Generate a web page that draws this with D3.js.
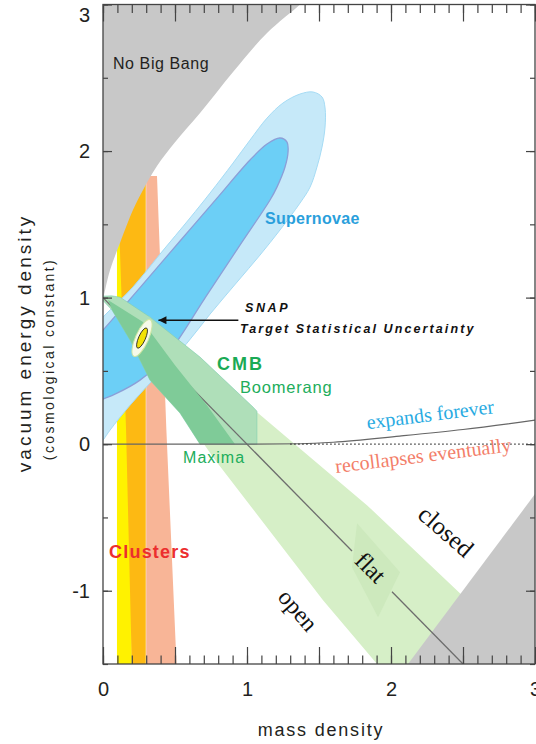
<!DOCTYPE html>
<html>
<head>
<meta charset="utf-8">
<script src="https://cdn.jsdelivr.net/npm/d3@7"></script>
<style>
  body { margin: 0; background: #fff; }
  svg { display: block; font-family: "Liberation Sans", Arial, Helvetica, sans-serif; }
</style>
</head>
<body>
<svg id="chart" width="536" height="744"></svg>
<script>
// ---- data (mass density, vacuum energy density) ----
const xTickLabels = [0, 1, 2, 3];
const yTickLabels = [-1, 0, 1, 2, 3];

// "No Big Bang" boundary
const noBigBang = [[0, 0.983], [0.049, 1.188], [0.118, 1.372], [0.208, 1.597], [0.278, 1.734],
  [0.375, 1.898], [0.5, 2.06], [0.674, 2.259], [0.903, 2.539], [1.139, 2.805], [1.368, 3.0], [1.45, 3.08]];

// lower right grey wedge
const closedGrey = [[2.042, -1.6], [3.1, -0.209], [3.1, -1.6]];

// cluster strips
const clusterYellow = [[0.097, -1.6], [0.2, -1.6], [0.2, 2.2], [0.097, 2.2]];
const clusterOrange = [[0.2, -1.6], [0.297, -1.6], [0.297, 2.2], [0.1, 2.2], [0.1, 1.8], [0.115, 1.4], [0.16, 0.1], [0.2, -1.5]];
const clusterSalmon = [[0.3, -1.6], [0.515, -1.6], [0.44, 0.1], [0.375, 1.83], [0.3, 1.83]];

// supernova confidence contours
const snOuter = [[-0.15, 0.70], [0, 0.867], [0.208, 1.072], [0.396, 1.297], [0.604, 1.543], [0.743, 1.713],
  [0.903, 1.918], [1.021, 2.075], [1.139, 2.225], [1.25, 2.328], [1.368, 2.389], [1.458, 2.403],
  [1.521, 2.369], [1.542, 2.294], [1.542, 2.164], [1.521, 2.027], [1.486, 1.891], [1.438, 1.754],
  [1.368, 1.645], [1.229, 1.461], [1.09, 1.29], [0.931, 1.106], [0.743, 0.887], [0.583, 0.689],
  [0.396, 0.491], [0.188, 0.266], [0.049, 0.096], [0, 0.027], [-0.15, -0.15]];
const snInner = [[-0.15, 0.61], [0, 0.778], [0.278, 1.092], [0.535, 1.386], [0.792, 1.679], [1.021, 1.939],
  [1.139, 2.048], [1.229, 2.089], [1.278, 2.061], [1.285, 1.993], [1.264, 1.891], [1.208, 1.754],
  [1.16, 1.666], [0.951, 1.358], [0.708, 0.997], [0.444, 0.608], [0.257, 0.437], [0.083, 0.341],
  [0, 0.307], [-0.15, 0.24]];

// CMB regions
const cmbPale = [[0, 1.01], [0.326, 0.867], [1.076, 0.212], [1.833, -0.416], [2.479, -1.017], [2.95, -1.45],
  [2.95, -1.6], [1.95, -1.6], [1.903, -1.5], [1.528, -1.065], [0.764, -0.089], [0.396, 0.437], [0.118, 0.915]];
const cmbKite = [[1.764, -0.539], [2.063, -0.874], [1.91, -1.181], [1.729, -0.84]];
const cmbBoomerang = [[0, 1.01], [0.06, 1.012], [0.118, 1.003], [0.326, 0.867], [0.674, 0.594], [1.042, 0.253],
  [1.069, 0.225], [1.069, 0], [0.674, 0], [0.535, 0.212], [0.326, 0.437], [0.188, 0.71], [0.0625, 0.915], [0, 0.98]];
const cmbMaxima = [[0.035, 0.983], [0.278, 0.833], [0.5, 0.539], [0.722, 0.266], [0.917, 0], [0.674, 0],
  [0.535, 0.212], [0.326, 0.437], [0.188, 0.71], [0.0625, 0.915]];

// lines
const expandLine = [[0, 0], [1, 0], [1.37, 0.003], [1.6, 0.013], [2.06, 0.055], [2.5, 0.1], [3, 0.164]];
const zeroDotted = [[1.3, 0], [3, 0]];
const flatLineA = [[0, 1], [1.729, -0.729]];
const flatLineB = [[2.007, -1.007], [2.5, -1.5]];

// SNAP target
const snapCenter = [0.271, 0.724];
const snapArrow = [[0.94, 0.846], [0.385, 0.846]];

// ---- chart ----
const svg = d3.select("#chart");
const x = d3.scaleLinear().domain([0, 3]).range([103, 535]);
const y = d3.scaleLinear().domain([-1.5, 3]).range([664, 4.5]);
const line = d3.line().x(d => x(d[0])).y(d => y(d[1]));
const smooth = d3.line().x(d => x(d[0])).y(d => y(d[1])).curve(d3.curveCatmullRom);

svg.append("clipPath").attr("id", "plot")
  .append("rect").attr("x", x(0)).attr("y", y(3))
  .attr("width", x(3) - x(0)).attr("height", y(-1.5) - y(3));

const g = svg.append("g").attr("clip-path", "url(#plot)");

function poly(pts, fill, curved) {
  return g.append("path").attr("d", (curved ? smooth : line)(pts) + "Z").attr("fill", fill);
}

// cluster strips
poly(clusterYellow, "#fff200");
poly(clusterOrange, "#fdb913");
poly(clusterSalmon, "#f8b597");

// supernovae
poly(snOuter, "#c6e9f9", true).attr("stroke", "#a5dbf4").attr("stroke-width", 1);
poly(snInner, "#6ccff6", true).attr("stroke", "#8b9fd8").attr("stroke-width", 1.3);

// no big bang
g.append("path")
  .attr("d", smooth(noBigBang) + `L${x(-0.1)},${y(3.1)}L${x(-0.1)},${y(0.983)}Z`)
  .attr("fill", "#c8c8c8");

// CMB
poly(cmbPale, "#d6efc7");
poly(cmbKite, "#cde9bd");
poly(closedGrey, "#c8c8c8");
poly(cmbBoomerang, "#afdfb9").attr("stroke", "#7fcfb0").attr("stroke-width", 0.6);

[flatLineA, flatLineB].forEach(seg => {
  g.append("path").attr("d", line(seg)).attr("fill", "none")
    .attr("stroke", "#6d6d6d").attr("stroke-width", 1.3);
});

poly(cmbMaxima, "#7fcb98");

// expands / recollapses boundary
g.append("path").attr("d", d3.line().x(d => x(d[0])).y(d => y(d[1])).curve(d3.curveMonotoneX)(expandLine))
  .attr("fill", "none").attr("stroke", "#666").attr("stroke-width", 1.2);
g.append("path").attr("d", line(zeroDotted)).attr("fill", "none")
  .attr("stroke", "#333").attr("stroke-width", 1.2).attr("stroke-dasharray", "1.5,2.5");

// SNAP ellipse
const snap = g.append("g")
  .attr("transform", `translate(${x(snapCenter[0])},${y(snapCenter[1])}) rotate(114)`);
snap.append("ellipse").attr("rx", 20).attr("ry", 6.5)
  .attr("fill", "#f6faea").attr("stroke", "#cfe6a2").attr("stroke-width", 1);
snap.append("ellipse").attr("rx", 11).attr("ry", 3.4)
  .attr("fill", "#f2e205").attr("stroke", "#222").attr("stroke-width", 0.8);

// arrow
svg.append("defs").append("marker").attr("id", "head")
  .attr("viewBox", "0 0 10 10").attr("refX", 10).attr("refY", 5)
  .attr("markerWidth", 10).attr("markerHeight", 8).attr("markerUnits", "userSpaceOnUse")
  .attr("orient", "auto")
  .append("path").attr("d", "M0,0L10,5L0,10Z").attr("fill", "#111");
svg.append("path").attr("d", line(snapArrow))
  .attr("stroke", "#111").attr("stroke-width", 1.5).attr("marker-end", "url(#head)");

// ---- labels ----
function label(t, px, py, opts) {
  const el = svg.append("text").attr("x", x(px)).attr("y", y(py)).text(t)
    .attr("fill", opts.fill || "#231f20")
    .style("font-size", opts.size + "px")
    .style("letter-spacing", (opts.ls || 0) + "px");
  if (opts.weight) el.style("font-weight", opts.weight);
  if (opts.italic) el.style("font-style", "italic");
  if (opts.serif) el.style("font-family", "'Liberation Serif', 'Times New Roman', serif");
  if (opts.anchor) el.attr("text-anchor", opts.anchor);
  if (opts.rotate !== undefined) {
    el.attr("transform", `rotate(${opts.rotate},${x(px)},${y(py)})`);
  }
  if (opts.central) el.attr("dominant-baseline", "central");
  return el;
}

label("No Big Bang", 0.069, 2.56, { size: 16, ls: 0.6 });
label("Supernovae", 1.125, 1.50, { size: 16, weight: "bold", fill: "#2a9fdc", ls: 0.3 });
label("SNAP", 0.986, 0.901, { size: 12.5, weight: "bold", italic: true, ls: 2.6, fill: "#111" });
label("Target Statistical Uncertainty", 0.951, 0.758, { size: 12.5, weight: "bold", italic: true, ls: 2.1, fill: "#111" });
label("CMB", 0.792, 0.505, { size: 18, weight: "bold", fill: "#1aaa55", ls: 2 });
label("Boomerang", 0.951, 0.348, { size: 16.5, fill: "#21ad5b", ls: 0.8 });
label("Maxima", 0.556, -0.13, { size: 16, fill: "#21ad5b", ls: 1 });
label("Clusters", 0.042, -0.775, { size: 18, weight: "bold", fill: "#ec2e2e", ls: 1.2 });
label("expands forever", 2.278, 0.157, { size: 20, serif: true, fill: "#29abe2", anchor: "middle", rotate: -7.2 });
label("recollapses eventually", 2.229, -0.123, { size: 20, serif: true, fill: "#f37e69", anchor: "middle", rotate: -7 });
label("closed", 2.382, -0.594, { size: 25, serif: true, fill: "#111", anchor: "middle", rotate: 41, central: true });
label("flat", 1.858, -0.843, { size: 24, serif: true, fill: "#111", anchor: "middle", rotate: 45, central: true });
label("open", 1.354, -1.133, { size: 24, serif: true, fill: "#111", anchor: "middle", rotate: 49, central: true });

// ---- axes ----
const axisColor = "#444";
function styleAxis(sel) {
  sel.select(".domain").remove();
  sel.selectAll(".tick line").attr("stroke", axisColor).attr("stroke-width", 1.2);
  sel.selectAll("text").attr("fill", "#231f20").style("font-size", "20px")
    .style("font-family", "'Liberation Sans', Arial, sans-serif");
}
const xMinor = d3.range(0, 3.001, 0.1);
const xMajor = d3.range(0, 3.001, 0.5);
const yMinor = d3.range(-1.5, 3.001, 0.5);

svg.append("g").attr("transform", `translate(0,${y(-1.5)})`)
  .call(d3.axisBottom(x).tickValues(xMinor).tickSize(-8.5).tickFormat("")).call(styleAxis);
svg.append("g").attr("transform", `translate(0,${y(-1.5)})`)
  .call(d3.axisBottom(x).tickValues(xMajor).tickSize(-17).tickPadding(18)
    .tickFormat(d => xTickLabels.includes(d) ? String(d) : "")).call(styleAxis);
svg.append("g").attr("transform", `translate(0,${y(3)})`)
  .call(d3.axisTop(x).tickValues(xMinor).tickSize(-8.5).tickFormat("")).call(styleAxis);
svg.append("g").attr("transform", `translate(0,${y(3)})`)
  .call(d3.axisTop(x).tickValues(xMajor).tickSize(-17).tickFormat("")).call(styleAxis);

svg.append("g").attr("transform", `translate(${x(0)},0)`)
  .call(d3.axisLeft(y).tickValues(yMinor).tickSize(-5).tickFormat("")).call(styleAxis);
const yAxis = svg.append("g").attr("transform", `translate(${x(0)},0)`)
  .call(d3.axisLeft(y).tickValues(yTickLabels).tickSize(-9).tickPadding(13).tickFormat(d => String(d)))
  .call(styleAxis);
// top label sits a little below the frame corner, as in the figure
yAxis.selectAll(".tick text").filter(d => d === 3).attr("dy", "0.85em");

svg.append("g").attr("transform", `translate(${x(3)},0)`)
  .call(d3.axisRight(y).tickValues(yMinor).tickSize(-5).tickFormat("")).call(styleAxis);
svg.append("g").attr("transform", `translate(${x(3)},0)`)
  .call(d3.axisRight(y).tickValues(yTickLabels).tickSize(-9).tickFormat("")).call(styleAxis);

svg.append("rect").attr("x", x(0)).attr("y", y(3))
  .attr("width", x(3) - x(0)).attr("height", y(-1.5) - y(3))
  .attr("fill", "none").attr("stroke", axisColor).attr("stroke-width", 1.3);

// axis titles
svg.append("text").attr("x", 321).attr("y", 736).attr("text-anchor", "middle")
  .style("font-size", "18px").style("letter-spacing", "1.8px").attr("fill", "#231f20")
  .text("mass density");
svg.append("text").attr("transform", "translate(31,343) rotate(-90)").attr("text-anchor", "middle")
  .style("font-size", "19px").style("letter-spacing", "3px").attr("fill", "#231f20")
  .text("vacuum energy density");
svg.append("text").attr("transform", "translate(54,359) rotate(-90)").attr("text-anchor", "middle")
  .style("font-size", "14px").style("letter-spacing", "2.4px").attr("fill", "#231f20")
  .text("(cosmological constant)");
</script>
</body>
</html>
